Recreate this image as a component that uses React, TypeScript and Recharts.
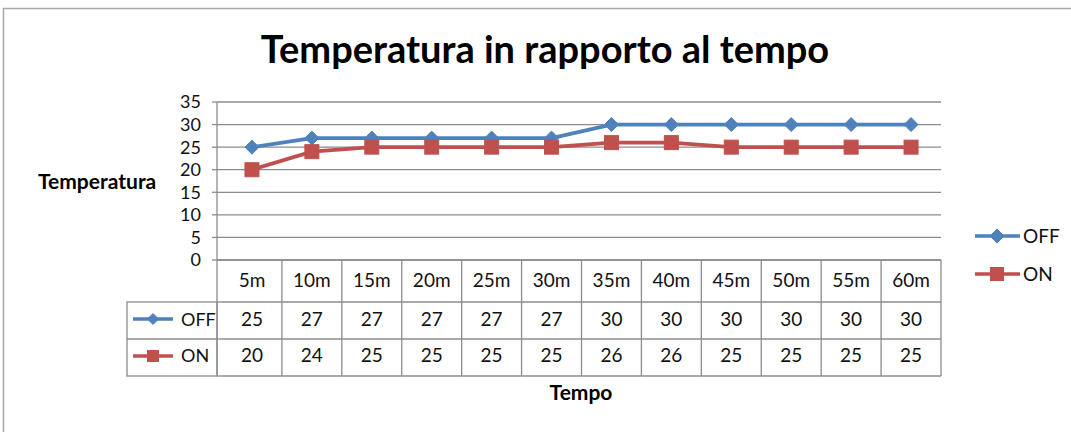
import React from 'react';
import { LineChart, Line, XAxis, YAxis, CartesianGrid, Legend } from 'recharts';

const categories = ['5m', '10m', '15m', '20m', '25m', '30m', '35m', '40m', '45m', '50m', '55m', '60m'];
const offValues = [25, 27, 27, 27, 27, 27, 30, 30, 30, 30, 30, 30];
const onValues = [20, 24, 25, 25, 25, 25, 26, 26, 25, 25, 25, 25];
const yTicks = [0, 5, 10, 15, 20, 25, 30, 35];
const seriesNames: Record<string, string> = { off: 'OFF', on: 'ON' };
const titleText = 'Temperatura in rapporto al tempo';
const yTitle = 'Temperatura';
const xTitle = 'Tempo';

const data = categories.map((c, i) => ({ cat: c, off: offValues[i], on: onValues[i] }));

const W = 1071;
const H = 432;
const MARGIN = { top: 102, right: 130, bottom: 56, left: 0 };
const Y_W = 217;
const X_H = 116;
const X_PAD = 5;
const PLOT_W = W - MARGIN.left - MARGIN.right - Y_W;
const BAND = (PLOT_W - X_PAD) / categories.length;
const ROW_H = [42, 37, 37];
const LEGEND_COL_W = 90;
const GRID = '#8c8c8c';
const BLUE = '#4F81BD';
const RED = '#C0504D';
const TEXT = '#111';
const FONT = 'Lato, "Open Sans", sans-serif';
const COLORS: Record<string, string> = { off: BLUE, on: RED };

const Marker = ({ k, cx, cy, s }: { k: string; cx: number; cy: number; s: number }) => {
  if (k === 'off') {
    return (
      <polygon
        points={`${cx},${cy - s} ${cx + s},${cy} ${cx},${cy + s} ${cx - s},${cy}`}
        fill={BLUE}
        stroke={BLUE}
        strokeWidth={1}
      />
    );
  }
  return <rect x={cx - s} y={cy - s} width={2 * s} height={2 * s} fill={RED} stroke={RED} strokeWidth={1} />;
};

const makeDot = (k: string, s: number) => (props: any) => {
  const { cx, cy, index } = props;
  if (cx == null || cy == null) return <g key={`${k}-${index}`} />;
  return (
    <g key={`${k}-${index}`}>
      <Marker k={k} cx={cx} cy={cy} s={s} />
    </g>
  );
};

const TableTick = (props: any) => {
  const { x, y, payload } = props;
  const i: number = props.index ?? payload.index ?? 0;
  const half = BAND / 2;
  const l = x - half;
  const r = x + half;
  const y1 = y + ROW_H[0];
  const y2 = y1 + ROW_H[1];
  const y3 = y2 + ROW_H[2];
  const plotLeft = l - X_PAD;
  const legLeft = plotLeft - LEGEND_COL_W;
  const fs = 19;
  return (
    <g>
      <line x1={r} y1={y} x2={r} y2={y3} stroke={GRID} strokeWidth={1.3} />
      <line x1={l} y1={y1} x2={r} y2={y1} stroke={GRID} strokeWidth={1.3} />
      <line x1={l} y1={y2} x2={r} y2={y2} stroke={GRID} strokeWidth={1.3} />
      <line x1={l} y1={y3} x2={r} y2={y3} stroke={GRID} strokeWidth={1.3} />
      <text x={x} y={y + 27} textAnchor="middle" fontSize={fs} fontFamily={FONT} fill={TEXT}>
        {payload.value}
      </text>
      <text x={x} y={y + 66} textAnchor="middle" fontSize={fs} fontFamily={FONT} fill={TEXT}>
        {offValues[i]}
      </text>
      <text x={x} y={y + 102} textAnchor="middle" fontSize={fs} fontFamily={FONT} fill={TEXT}>
        {onValues[i]}
      </text>
      {i === 0 && (
        <g>
          <line x1={plotLeft} y1={y} x2={plotLeft} y2={y3} stroke={GRID} strokeWidth={1.3} />
          <line x1={plotLeft} y1={y1} x2={l} y2={y1} stroke={GRID} strokeWidth={1.3} />
          <line x1={plotLeft} y1={y2} x2={l} y2={y2} stroke={GRID} strokeWidth={1.3} />
          <line x1={plotLeft} y1={y3} x2={l} y2={y3} stroke={GRID} strokeWidth={1.3} />
          <rect x={legLeft} y={y1} width={LEGEND_COL_W} height={ROW_H[1] + ROW_H[2]} fill="none" stroke={GRID} strokeWidth={1.3} />
          <line x1={legLeft} y1={y2} x2={plotLeft} y2={y2} stroke={GRID} strokeWidth={1.3} />
          {(['off', 'on'] as const).map((k, j) => {
            const cy = j === 0 ? y + 59 : y + 96;
            return (
              <g key={k}>
                <line x1={legLeft + 6} y1={cy} x2={legLeft + 46} y2={cy} stroke={COLORS[k]} strokeWidth={3.5} />
                <Marker k={k} cx={legLeft + 26} cy={cy} s={5.5} />
                <text x={legLeft + 54} y={j === 0 ? y + 66 : y + 102} fontSize={18} fontFamily={FONT} fill={TEXT}>
                  {seriesNames[k]}
                </text>
              </g>
            );
          })}
        </g>
      )}
    </g>
  );
};

const LegendContent = (props: any) => {
  const payload = (props.payload || []) as any[];
  return (
    <svg width={98} height={76} style={{ display: 'block', overflow: 'visible' }}>
      {payload.map((p, j) => {
        const k = String(p.dataKey);
        const cy = 18 + j * 38;
        return (
          <g key={k}>
            <line x1={3} y1={cy} x2={48} y2={cy} stroke={COLORS[k]} strokeWidth={3.5} />
            <Marker k={k} cx={25} cy={cy} s={k === 'off' ? 7 : 6.5} />
            <text x={51} y={cy + 6.5} fontSize={19} fontFamily={FONT} fill={TEXT}>
              {p.value}
            </text>
          </g>
        );
      })}
    </svg>
  );
};

export default function App() {
  return (
    <div style={{ position: 'absolute', left: 0, top: 0, width: W, height: H, background: '#fff' }}>
      <LineChart width={W} height={H} data={data} margin={MARGIN}>
        <CartesianGrid vertical={false} stroke={GRID} strokeWidth={1.3} />
        <XAxis
          dataKey="cat"
          type="category"
          scale="band"
          height={X_H}
          padding={{ left: X_PAD, right: 0 }}
          axisLine={{ stroke: GRID, strokeWidth: 1.3 }}
          tickLine={false}
          tickSize={0}
          tickMargin={0}
          interval={0}
          tick={<TableTick />}
        />
        <YAxis
          width={Y_W}
          domain={[0, 35]}
          ticks={yTicks}
          interval={0}
          axisLine={{ stroke: GRID, strokeWidth: 1.3 }}
          tickLine={{ stroke: GRID, strokeWidth: 1.3 }}
          tickSize={5}
          tickMargin={11}
          tick={{ fill: TEXT, fontSize: 18, fontFamily: FONT }}
        />
        <Line
          type="linear"
          dataKey="off"
          name={seriesNames.off}
          stroke={BLUE}
          strokeWidth={3.8}
          dot={makeDot('off', 7)}
          isAnimationActive={false}
        />
        <Line
          type="linear"
          dataKey="on"
          name={seriesNames.on}
          stroke={RED}
          strokeWidth={3.8}
          dot={makeDot('on', 7)}
          isAnimationActive={false}
        />
        <Legend
          layout="vertical"
          align="center"
          verticalAlign="middle"
          wrapperStyle={{ position: 'absolute', left: 972, top: 218, width: 98 }}
          content={<LegendContent />}
        />
      </LineChart>
      <svg
        width={W}
        height={H}
        style={{ position: 'absolute', left: 0, top: 0, pointerEvents: 'none' }}
      >
        <rect x={3.5} y={8.5} width={W + 10} height={H + 10} fill="none" stroke="#a6a6a6" strokeWidth={1.5} />
        <text x={545} y={63} textAnchor="middle" fontSize={38} fontWeight={700} fontFamily={FONT} fill="#000">
          {titleText}
        </text>
        <text x={38} y={189} fontSize={21} fontWeight={700} fontFamily={FONT} fill="#000">
          {yTitle}
        </text>
        <text x={581} y={400} textAnchor="middle" fontSize={21} fontWeight={700} fontFamily={FONT} fill="#000">
          {xTitle}
        </text>
      </svg>
    </div>
  );
}
